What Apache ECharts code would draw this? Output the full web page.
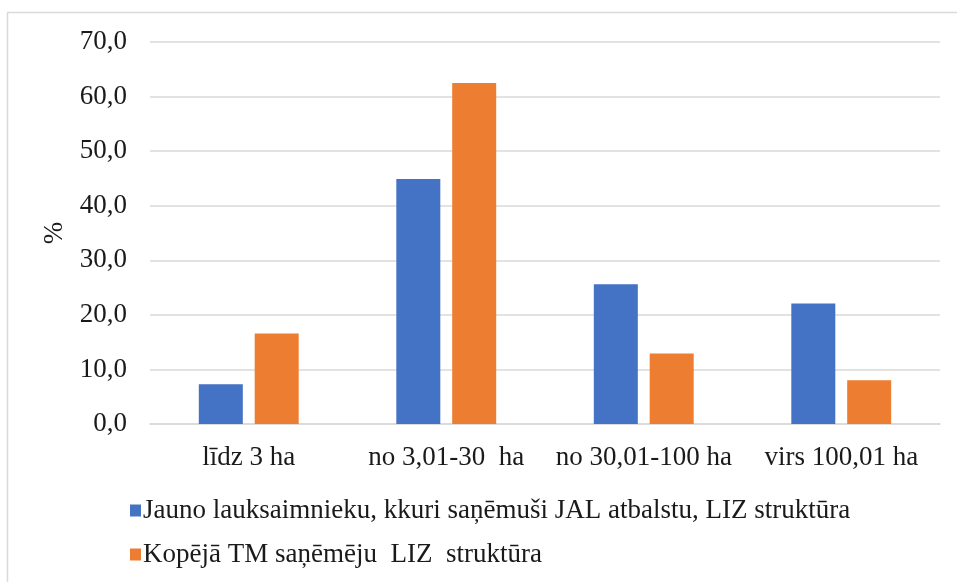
<!DOCTYPE html>
<html>
<head>
<meta charset="utf-8">
<script src="https://cdn.jsdelivr.net/npm/echarts@6/dist/echarts.min.js"></script>
<style>
html, body { margin: 0; padding: 0; background: #fff; }
#chart { width: 957px; height: 582px; }
</style>
</head>
<body>
<div id="chart"></div>
<script>
const categories = ['līdz 3 ha', 'no 3,01-30  ha', 'no 30,01-100 ha', 'virs 100,01 ha']
const seriesNames = [
    'Jauno lauksaimnieku, kkuri saņēmuši JAL atbalstu, LIZ struktūra',
    'Kopējā TM saņēmēju  LIZ  struktūra'
]
const youngFarmers = [7.3, 44.9, 25.6, 22.1]
const allRecipients = [16.6, 62.5, 12.9, 8.0]

const font = '"Liberation Serif", "Times New Roman", serif'
const textColor = '#1a1a1a'
const fontSize = 27

const chart = echarts.init(document.getElementById('chart'), null, { renderer: 'canvas' })
chart.setOption({
    animation: false,
    textStyle: { fontFamily: font, color: textColor },
    graphic: [
        {
            type: 'rect',
            shape: { x: 7.5, y: 12.5, width: 1200, height: 1200 },
            style: { fill: 'none', stroke: '#d9d9d9', lineWidth: 1.5 },
            silent: true
        }
    ],
    grid: {
        left: 150,
        right: 17,
        top: 42,
        bottom: 158
    },
    legend: {
        orient: 'vertical',
        left: 125,
        top: 492,
        itemWidth: 11,
        itemHeight: 12,
        itemGap: 17,
        icon: 'rect',
        textStyle: {
            fontFamily: font,
            fontSize: fontSize,
            lineHeight: 27,
            color: textColor,
            padding: [0, 0, 0, -3]
        },
        data: seriesNames
    },
    xAxis: {
        type: 'category',
        data: categories,
        axisLine: { lineStyle: { color: '#d9d9d9', width: 1.5 } },
        axisTick: { show: false },
        axisLabel: { fontFamily: font, fontSize: fontSize, color: textColor, margin: 20, interval: 0 }
    },
    yAxis: {
        type: 'value',
        min: 0,
        max: 70,
        interval: 10,
        name: '%',
        nameLocation: 'middle',
        nameGap: 81,
        nameRotate: 90,
        nameTextStyle: { fontFamily: font, fontSize: fontSize, color: textColor },
        axisLine: { show: false },
        axisTick: { show: false },
        splitLine: { lineStyle: { color: '#d9d9d9', width: 1.5 } },
        axisLabel: {
            fontFamily: font,
            fontSize: fontSize,
            color: textColor,
            margin: 23,
            formatter: v => v.toFixed(1).replace('.', ',')
        }
    },
    series: [
        {
            name: seriesNames[0],
            type: 'bar',
            data: youngFarmers,
            barWidth: 44,
            barGap: '27%',
            itemStyle: { color: '#4472c4' }
        },
        {
            name: seriesNames[1],
            type: 'bar',
            data: allRecipients,
            barWidth: 44,
            itemStyle: { color: '#ed7d31' }
        }
    ]
})
window.addEventListener('resize', () => {
    chart.resize()
})
</script>
</body>
</html>
